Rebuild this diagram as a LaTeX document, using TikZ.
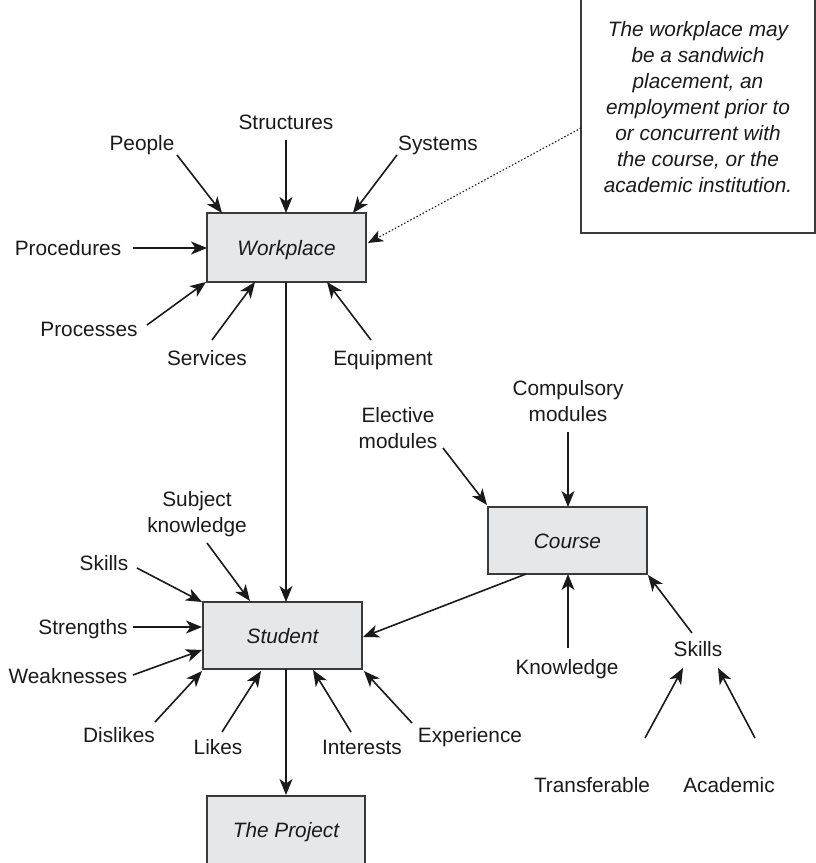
\documentclass[tikz,border=0pt]{standalone}
\usepackage{fontspec}
\setmainfont{Liberation Sans}
\usetikzlibrary{arrows.meta}
\definecolor{boxfill}{HTML}{E6E7E8}
\definecolor{edge}{HTML}{3A3A3A}
\definecolor{ink}{HTML}{1A1A1A}
\begin{document}
\begin{tikzpicture}[x=1pt,y=-1pt,
  lbl/.style={font=\fontsize{20.8}{26}\selectfont, inner sep=0pt, align=center,
    text=ink, execute at begin node=\strut, execute at end node=\strut, yshift=-2.3pt},
  notetxt/.style={lbl, font=\fontsize{20.8}{26}\selectfont\itshape},
  box/.style={draw=edge, line width=1.5pt, fill=boxfill, minimum width=159pt,
    minimum height=67pt, inner sep=0pt, text=ink,
    font=\fontsize{20.8}{26}\selectfont\itshape, text height=15pt, text depth=0pt},
  arr/.style={draw=ink, line width=1.6pt,
    -{Stealth[length=16pt,width=13pt,inset=4.5pt]}},
  dotarr/.style={draw=ink, line width=1.1pt, dash pattern=on 1.5pt off 2pt,
    -{Stealth[length=15pt,width=12pt,inset=4pt]}}]
\useasboundingbox (0,0) rectangle (816,863);
\clip (0,0) rectangle (816,863);

% ---------- main boxes ----------
\node[box, minimum height=69pt] (wp) at (286.5,247.5) {Workplace};
\node[box] (st) at (282.5,635.5) {Student};
\node[box] (co) at (567.5,540.5) {Course};
\node[box, minimum width=158pt, minimum height=68pt] (pr) at (286,830) {The Project};

% ---------- note ----------
\node[draw=edge, line width=1.3pt, minimum width=234pt, minimum height=243pt,
  inner sep=0pt] (note) at (698,111.5) {};
\node[notetxt] (notetext) at (698,108.5) {The workplace may\\be a sandwich\\placement, an\\employment prior to\\or concurrent with\\the course, or the\\academic institution.};
\coordinate (nA) at (581,128);
\coordinate (nB) at (368,243);
\draw[dotarr] (nA) -- (nB);

% ---------- workplace inputs ----------
\node[lbl] (people) at (142,143) {People};
\node[lbl] (structures) at (286,122) {Structures};
\node[lbl] (systems) at (438,143) {Systems};
\node[lbl] (procedures) at (68,248) {Procedures};
\node[lbl] (processes) at (89,329) {Processes};
\node[lbl] (services) at (207,358) {Services};
\node[lbl] (equipment) at (383,358) {Equipment};

\coordinate (peA) at (177,155);  \coordinate (peB) at (222,213);
\coordinate (stA) at (286,140);  \coordinate (stB) at (286,213);
\coordinate (syA) at (397,155);  \coordinate (syB) at (353,213);
\coordinate (prA) at (133,248);  \coordinate (prB) at (207,248);
\coordinate (psA) at (147,325);  \coordinate (psB) at (206,282);
\coordinate (seA) at (212,340);  \coordinate (seB) at (255,282);
\coordinate (eqA) at (371,340);  \coordinate (eqB) at (327,282);
\draw[arr] (peA) -- (peB);
\draw[arr] (stA) -- (stB);
\draw[arr] (syA) -- (syB);
\draw[arr] (prA) -- (prB);
\draw[arr] (psA) -- (psB);
\draw[arr] (seA) -- (seB);
\draw[arr] (eqA) -- (eqB);

% ---------- student inputs ----------
\node[lbl] (skillsS) at (104,563) {Skills};
\node[lbl] (subject) at (197,513.5) {Subject\\knowledge};
\node[lbl] (strengths) at (83,627) {Strengths};
\node[lbl] (weak) at (68,676) {Weaknesses};
\node[lbl] (dislikes) at (119,735) {Dislikes};
\node[lbl] (likes) at (218,747) {Likes};
\node[lbl] (interests) at (362,747) {Interests};
\node[lbl] (experience) at (470,735) {Experience};

\coordinate (skA) at (137,568);  \coordinate (skB) at (202,602);
\coordinate (sbA) at (207,543);  \coordinate (sbB) at (250,601);
\coordinate (srA) at (133,627);  \coordinate (srB) at (202,627);
\coordinate (wkA) at (133,675);  \coordinate (wkB) at (202,650);
\coordinate (dlA) at (155,722);  \coordinate (dlB) at (202,671);
\coordinate (lkA) at (222,732);  \coordinate (lkB) at (261,671);
\coordinate (inA) at (351,732);  \coordinate (inB) at (313,670);
\coordinate (exA) at (412,723);  \coordinate (exB) at (364,671);
\draw[arr] (skA) -- (skB);
\draw[arr] (sbA) -- (sbB);
\draw[arr] (srA) -- (srB);
\draw[arr] (wkA) -- (wkB);
\draw[arr] (dlA) -- (dlB);
\draw[arr] (lkA) -- (lkB);
\draw[arr] (inA) -- (inB);
\draw[arr] (exA) -- (exB);

% ---------- flow between boxes ----------
\coordinate (wpS) at (286,282);  \coordinate (stN) at (286,602);
\coordinate (stS) at (286,669);  \coordinate (prN) at (286,795);
\coordinate (coS) at (526,574);  \coordinate (stE) at (363,637);
\draw[arr] (wpS) -- (stN);
\draw[arr] (stS) -- (prN);
\draw[arr] (coS) -- (stE);

% ---------- course inputs ----------
\node[lbl] (elective) at (398,430) {Elective\\modules};
\node[lbl] (compulsory) at (568,402.5) {Compulsory\\modules};
\node[lbl] (knowledge) at (567,667) {Knowledge};
\node[lbl] (skillsC) at (698,649) {Skills};
\node[lbl] (transfer) at (592,785) {Transferable};
\node[lbl] (academic) at (729,785) {Academic};

\coordinate (elA) at (443,448);  \coordinate (elB) at (487,505);
\coordinate (cmA) at (568,432);  \coordinate (cmB) at (568,507);
\coordinate (knA) at (568,648);  \coordinate (knB) at (568,574);
\coordinate (scA) at (692,633);  \coordinate (scB) at (648,575);
\coordinate (trA) at (645,738);  \coordinate (trB) at (683,668);
\coordinate (acA) at (755,738);  \coordinate (acB) at (718,668);
\draw[arr] (elA) -- (elB);
\draw[arr] (cmA) -- (cmB);
\draw[arr] (knA) -- (knB);
\draw[arr] (scA) -- (scB);
\draw[arr] (trA) -- (trB);
\draw[arr] (acA) -- (acB);
\end{tikzpicture}
\end{document}
